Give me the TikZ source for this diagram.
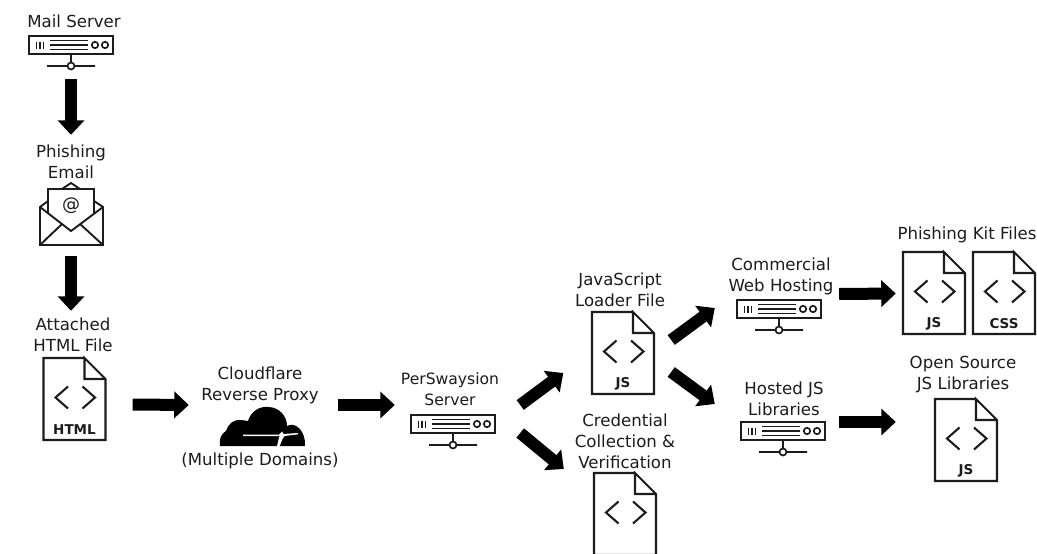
\documentclass[tikz,border=0pt]{standalone}
\usepackage{fontspec}
\setmainfont{DejaVu Sans}
\usetikzlibrary{arrows.meta,calc}
\definecolor{ink}{HTML}{1C1C1C}
\tikzset{
  blockarrow/.style={line width=12pt,draw=black,-{Triangle[length=14.5pt,width=26pt]}},
  lab/.style={font=\fontsize{16.6}{21}\selectfont,text=ink,align=center,inner sep=0pt},
  filelab/.style={font=\fontsize{13.5}{14}\selectfont\bfseries,text=ink,inner sep=0pt},
  icon/.style={line width=2.1pt,draw=ink,line join=miter},
  thin icon/.style={line width=1.7pt,draw=ink}
}
% name, left, top, label
\newcommand\fileicon[4]{%
  \node[inner sep=0pt,minimum width=62pt,minimum height=82pt] (#1) at (#2+31,#3+41) {};
  \begin{scope}[shift={(#2,#3)}]
    \draw[icon] (41,0) -- (0,0) -- (0,82) -- (62,82) -- (62,21) -- (41,0) -- (41,21) -- (62,21);
    \draw[icon] (24.5,28.5) -- (12,39.5) -- (24.5,50.5);
    \draw[icon] (39,28.5) -- (51.5,39.5) -- (39,50.5);
    \node[filelab] (#1lab) at (31,72) {#4};
  \end{scope}}
% name, left, top
\newcommand\servericon[3]{%
  \node[inner sep=0pt,minimum width=84pt,minimum height=36pt] (#1) at (#2+42,#3+18) {};
  \begin{scope}[shift={(#2,#3)}]
    \draw[icon] (0,0) rectangle (84,18);
    \draw[line width=1.9pt,draw=ink] (7.5,5.5) -- (7.5,12.5) (11,5.5) -- (11,12.5) (14.5,5.5) -- (14.5,12.5);
    \draw[line width=1.4pt,draw=ink] (21,4.7) -- (59,4.7) (21,9) -- (59,9) (21,13.3) -- (59,13.3);
    \draw[thin icon] (66,9) circle (3.2) (76,9) circle (3.2);
    \draw[thin icon] (42,18) -- (42,26.5) (18,30) -- (38.5,30) (45.5,30) -- (66,30) (42,30) circle (3.5);
  \end{scope}}
\begin{document}
\begin{tikzpicture}[x=1pt,y=-1pt]
\useasboundingbox (0,0) rectangle (1037,554);
\fill[white] (0,0) rectangle (1037,554);
\clip (0,0) rectangle (1037,554);

\servericon{mailsrv}{29}{36}
\node[lab] (mailtxt) at (74,21) {Mail Server};

\node[lab] (phishtxt) at (71,162) {Phishing\\Email};
\node[inner sep=0pt,minimum width=63pt,minimum height=62pt] (email) at (71.5,214) {};
\draw[icon,line width=1.9pt] (48,201) -- (40,207) -- (40,245) -- (103,245) -- (103,207) -- (94,201);
\draw[icon,line width=1.9pt] (62,189) -- (71,183) -- (80,189);
\draw[icon,line width=1.9pt] (48,213) -- (48,189) -- (94,189) -- (94,213);
\draw[icon,line width=1.9pt] (40,207) -- (71,231) -- (103,207);
\draw[icon,line width=1.9pt] (40,245) -- (62,224) (103,245) -- (80,224);
\node[font=\fontsize{18}{18}\selectfont,text=ink,inner sep=0pt] (at) at (71,206) {@};

\node[lab] (htmltxt) at (73,335) {Attached\\HTML File};
\fileicon{htmlfile}{43.5}{358}{HTML}

\node[lab] (cftxt) at (260,385) {Cloudflare\\Reverse Proxy};
\node[inner sep=0pt,minimum width=85pt,minimum height=39pt] (cloud) at (262.5,426.5) {};
% cloud
\fill[black] (220,446) .. controls (219,439) and (221,434) .. (226,431)
  .. controls (228,424) and (234,419) .. (241,420)
  .. controls (244,420) and (246,421) .. (248,421)
  .. controls (251,411) and (260,406) .. (268,407)
  .. controls (279,407) and (287,416) .. (287,426)
  .. controls (296,421) and (306,432) .. (305,446) -- cycle;
\fill[white] (243,434.7) -- (279,434.7) -- (282,431.5) -- (283.5,434) -- (298,433) -- (298,434.3) -- (284.5,436) -- (282.5,439) -- (279.5,446.5) -- (277,446.5) .. controls (278,441) and (279,438.5) .. (279.5,436.2) -- (243,436.2) -- cycle;
\node[lab] (cfdom) at (260,461) {(Multiple Domains)};

\node[lab,font=\fontsize{15.6}{21.5}\selectfont] (perstxt) at (450,389) {PerSwaysion\\Server};
\servericon{persw}{411}{415}

\node[lab] (jstxt) at (620,289.5) {JavaScript\\Loader File};
\fileicon{jsfile}{592}{312}{JS}

\node[lab] (credtxt) at (625,441) {Credential\\Collection \&\\Verification};
\fileicon{credfile}{594}{473}{}

\node[lab] (commtxt) at (781,276) {Commercial\\Web Hosting};
\servericon{comm}{737}{300}

\node[lab] (hosttxt) at (784,399) {Hosted JS\\Libraries};
\servericon{hosted}{741}{422}

\node[lab] (kittxt) at (967,235) {Phishing Kit Files};
\fileicon{kitjs}{903}{252}{JS}
\fileicon{kitcss}{973}{252}{CSS}

\node[lab] (osstxt) at (963,374.5) {Open Source\\JS Libraries};
\fileicon{ossjs}{935}{399}{JS}

\draw[blockarrow] ($(mailsrv.south)+(0,7)$) -- ($(email.north)+(-.5,-48)$);
\draw[blockarrow] ($(email.south)+(-.5,11)$) -- ($(htmlfile.north)+(-3.5,-47)$);
\draw[blockarrow] ($(htmlfile.east)+(27,5.5)$) -- ($(cloud.west)+(-31,-21.5)$);
\draw[blockarrow] ($(cloud.east)+(33,-21.5)$) -- ($(persw.west)+(-16,-28)$);
\draw[blockarrow] ($(persw.east)+(25,-28)$) -- ($(jsfile.west)+(-28.5,20)$);
\draw[blockarrow] ($(persw.east)+(25,0)$) -- ($(credfile.west)+(-30,-45)$);
\draw[blockarrow] ($(jsfile.east)+(17,-13)$) -- ($(comm.west)+(-22,-10)$);
\draw[blockarrow] ($(jsfile.east)+(17,19)$) -- ($(hosted.west)+(-26,-36)$);
\draw[blockarrow] ($(comm.east)+(18,-24)$) -- ($(kitjs.west)+(-7,.5)$);
\draw[blockarrow] ($(hosted.east)+(14,-18)$) -- ($(ossjs.west)+(-39,-18)$);
\end{tikzpicture}
\end{document}
